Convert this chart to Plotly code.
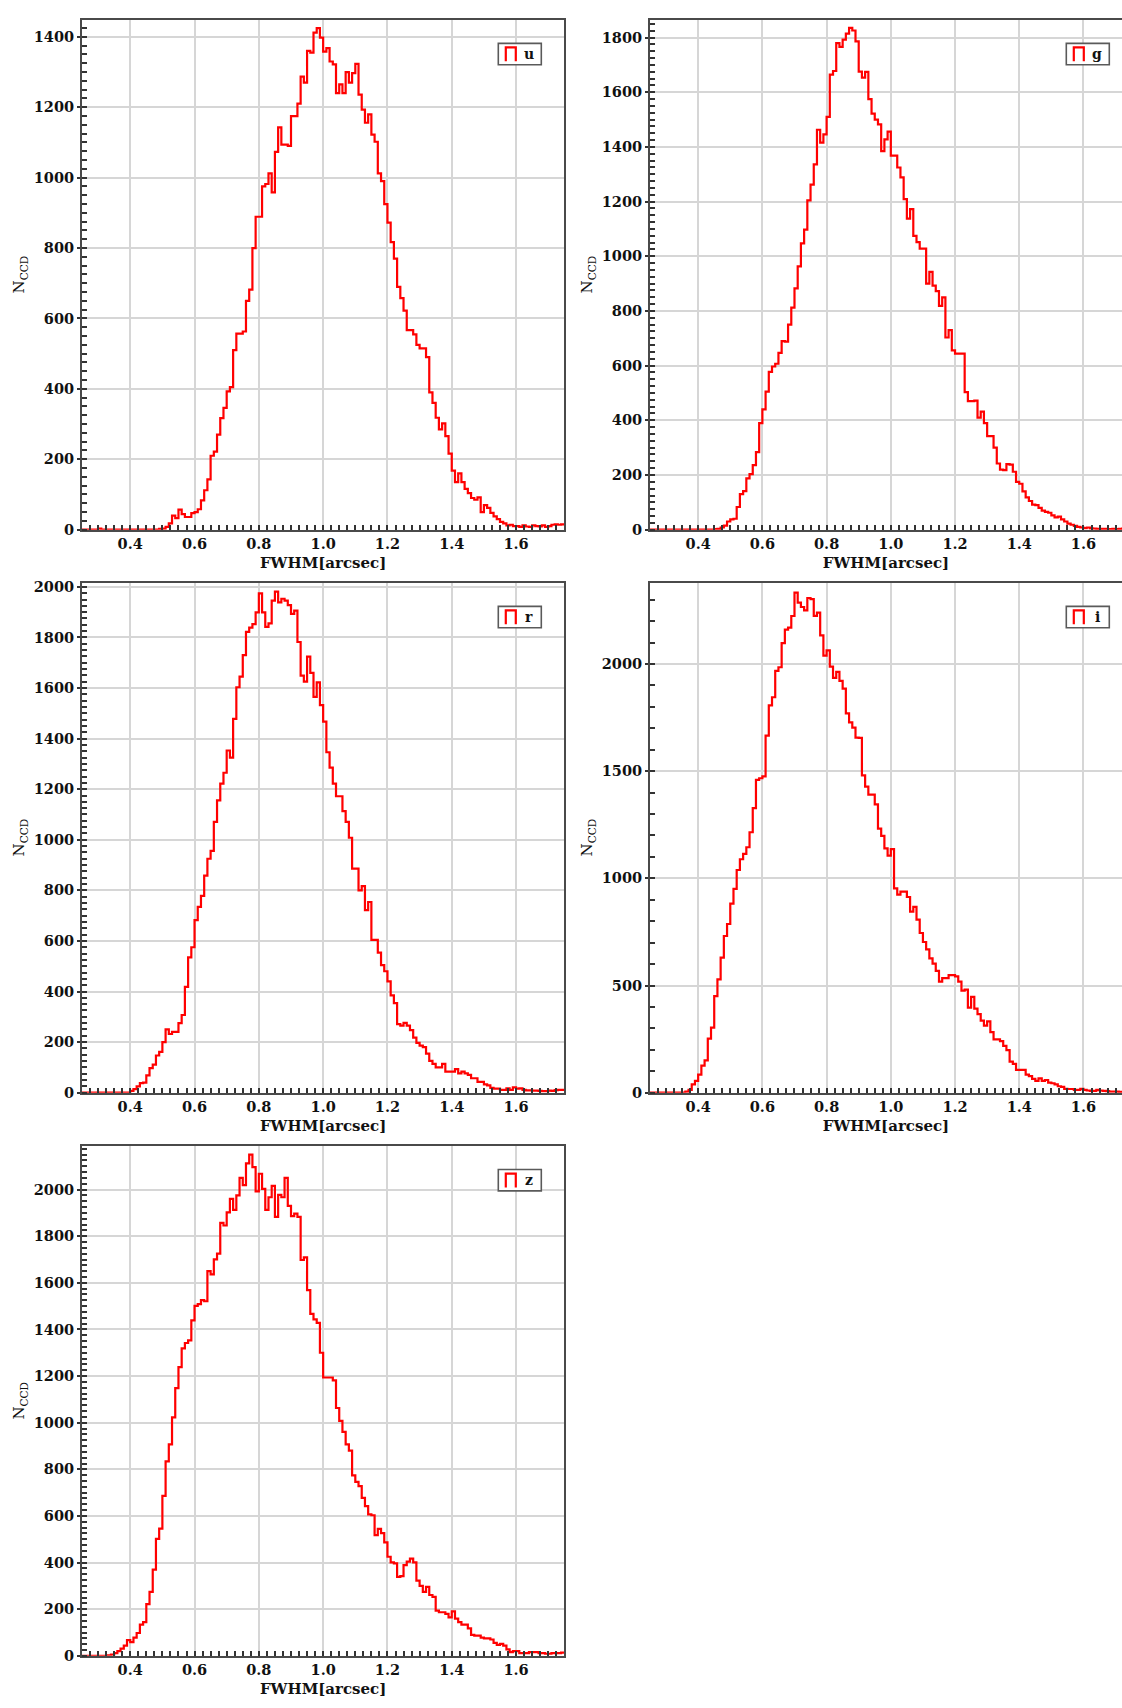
import numpy as np
import plotly.graph_objects as go

# ---------------- data ----------------
bands = ["u", "g", "r", "i", "z"]
bin_start = 0.25   # left edge of first bin [arcsec]
bin_width = 0.01   # bin width [arcsec]

# counts per bin, rows of 10 bins: 0.25-0.34, 0.35-0.44, ..., 1.65-1.74
u_counts = [
    0, 0, 0, 0, 0, 3, 0, 0, 0, 0,
    0, 0, 0, 0, 0, 0, 0, 0, 0, 0,
    0, 0, 0, 0, 2, 3, 8, 18, 40, 33,
    57, 44, 36, 36, 47, 50, 58, 83, 112, 143,
    210, 222, 270, 317, 346, 393, 405, 510, 557, 557,
    563, 650, 682, 800, 889, 889, 975, 982, 1012, 958,
    1073, 1143, 1094, 1094, 1090, 1175, 1175, 1210, 1287, 1270,
    1360, 1355, 1412, 1425, 1398, 1358, 1368, 1330, 1322, 1240,
    1265, 1240, 1300, 1270, 1297, 1323, 1236, 1193, 1156, 1180,
    1122, 1102, 1012, 990, 925, 872, 817, 770, 690, 658,
    622, 567, 567, 555, 525, 515, 515, 490, 390, 360,
    318, 285, 302, 266, 216, 168, 135, 160, 135, 116,
    104, 90, 85, 92, 50, 70, 62, 48, 38, 30,
    22, 18, 12, 14, 10, 10, 8, 12, 9, 8,
    12, 10, 9, 12, 8, 10, 14, 15, 14, 15,
]
g_counts = [
    0, 0, 0, 0, 0, 0, 0, 0, 0, 0,
    0, 0, 0, 0, 0, 0, 0, 0, 0, 0,
    2, 3, 8, 15, 30, 38, 40, 83, 130, 141,
    188, 203, 236, 284, 390, 440, 505, 577, 597, 607,
    647, 690, 688, 750, 812, 883, 963, 1047, 1098, 1205,
    1262, 1336, 1463, 1416, 1446, 1510, 1665, 1678, 1780, 1766,
    1793, 1815, 1836, 1826, 1786, 1676, 1654, 1675, 1575, 1522,
    1500, 1483, 1385, 1428, 1456, 1368, 1368, 1325, 1289, 1209,
    1138, 1173, 1075, 1052, 1028, 1028, 900, 943, 893, 873,
    819, 850, 703, 730, 656, 644, 644, 644, 503, 470,
    470, 472, 410, 432, 390, 342, 342, 300, 242, 220,
    218, 240, 238, 212, 175, 168, 140, 118, 105, 92,
    90, 80, 70, 65, 62, 52, 45, 48, 38, 30,
    22, 18, 14, 10, 8, 6, 8, 5, 4, 3,
    3, 3, 2, 2, 3, 2, 3, 4, 3, 2,
]
r_counts = [
    0, 0, 0, 0, 0, 0, 0, 0, 0, 0,
    0, 0, 0, 0, 0, 7, 14, 25, 38, 40,
    68, 97, 111, 147, 161, 200, 250, 232, 240, 240,
    275, 307, 418, 535, 575, 682, 735, 778, 858, 925,
    956, 1071, 1156, 1222, 1265, 1353, 1325, 1478, 1603, 1645,
    1730, 1822, 1839, 1853, 1899, 1974, 1899, 1842, 1856, 1946,
    1981, 1939, 1953, 1946, 1928, 1893, 1906, 1782, 1649, 1625,
    1724, 1660, 1565, 1622, 1532, 1467, 1346, 1285, 1222, 1172,
    1172, 1113, 1071, 1008, 886, 886, 800, 817, 722, 754,
    604, 604, 554, 504, 480, 440, 385, 354, 271, 265,
    276, 265, 247, 218, 197, 186, 180, 154, 126, 114,
    100, 100, 114, 83, 83, 83, 93, 76, 83, 76,
    70, 57, 57, 43, 43, 33, 29, 19, 16, 16,
    11, 11, 17, 11, 21, 16, 17, 11, 9, 9,
    8, 8, 7, 6, 6, 8, 7, 10, 11, 11,
]
i_counts = [
    0, 0, 0, 0, 0, 0, 0, 0, 0, 0,
    0, 5, 13, 39, 55, 84, 126, 151, 252, 303,
    450, 529, 630, 731, 787, 882, 951, 1039, 1089, 1114,
    1145, 1215, 1328, 1459, 1467, 1476, 1666, 1807, 1845, 1968,
    1985, 2097, 2160, 2170, 2224, 2333, 2286, 2266, 2250, 2308,
    2303, 2225, 2240, 2134, 2039, 2064, 1988, 1935, 1963, 1921,
    1885, 1770, 1728, 1703, 1657, 1655, 1480, 1428, 1391, 1391,
    1345, 1232, 1198, 1140, 1106, 1136, 953, 924, 938, 938,
    913, 845, 867, 807, 745, 703, 669, 627, 602, 568,
    518, 534, 534, 548, 548, 543, 518, 476, 481, 397,
    447, 392, 366, 336, 313, 333, 282, 249, 249, 240,
    218, 198, 145, 134, 106, 106, 106, 84, 77, 64,
    55, 67, 55, 59, 47, 44, 39, 30, 27, 18,
    17, 17, 13, 13, 18, 13, 10, 8, 8, 13,
    10, 8, 7, 5, 5, 5, 4, 4, 4, 3,
]
z_counts = [
    0, 0, 0, 0, 0, 0, 0, 0, 2, 5,
    12, 20, 31, 44, 67, 59, 78, 98, 134, 145,
    222, 274, 370, 502, 546, 686, 834, 907, 1023, 1148,
    1238, 1319, 1342, 1353, 1439, 1501, 1509, 1526, 1521, 1650,
    1636, 1701, 1725, 1857, 1846, 1902, 1960, 1913, 1975, 2050,
    2019, 2112, 2150, 2096, 1992, 2068, 2003, 1913, 1967, 2016,
    1883, 1977, 1967, 2050, 1930, 1886, 1897, 1883, 1698, 1709,
    1569, 1467, 1443, 1428, 1300, 1194, 1194, 1194, 1182, 1063,
    1008, 961, 907, 880, 774, 746, 728, 678, 642, 607,
    603, 518, 545, 526, 487, 425, 401, 397, 339, 342,
    389, 404, 417, 401, 323, 300, 274, 296, 261, 253,
    194, 187, 187, 180, 165, 191, 160, 145, 134, 134,
    118, 90, 87, 87, 78, 75, 75, 70, 56, 47,
    51, 44, 28, 16, 20, 20, 12, 12, 12, 16,
    16, 16, 12, 12, 9, 9, 12, 12, 12, 14,
]
counts = {"u": u_counts, "g": g_counts, "r": r_counts, "i": i_counts, "z": z_counts}

x_tick_step = 0.2
x_minor_step = 0.025
y_tick_step = {"u": 200, "g": 200, "r": 200, "i": 500, "z": 200}
y_minor_step = {"u": 25, "g": 25, "r": 25, "i": 100, "z": 25}
y_top = {"u": 1449, "g": 1866, "r": 2017, "i": 2380, "z": 2188}
x_range_left = [0.25, 1.75]
x_range_right = [0.25, 1.72]

# ---------------- layout geometry (pixels) ----------------
W, H = 1122, 1708
cols = {"L": (82.0, 564.3), "R": (650.0, 1122.0)}
panel_w = cols["L"][1] - cols["L"][0]
rows = [(14.7, 528.7), (582.0, 1096.0), (1149.5, 1663.5)]
placement = {"u": ("L", 0), "g": ("R", 0), "r": ("L", 1), "i": ("R", 1), "z": ("L", 2)}

RED = "#ff0000"
AXIS = "#4a4a4a"
GRID = "#d6d6d6"
SERIF = "DejaVu Serif"


def px(xp):
    return xp / W


def py(yp):
    return 1 - yp / H


fig = go.Figure()
annotations = []
shapes = []

for k, band in enumerate(bands, start=1):
    c = np.asarray(counts[band], dtype=float)
    edges = bin_start + bin_width * np.arange(len(c) + 1)
    yvals = np.append(c, c[-1])
    xa = "x" if k == 1 else f"x{k}"
    ya = "y" if k == 1 else f"y{k}"
    fig.add_trace(go.Scatter(
        x=edges, y=yvals, mode="lines", line=dict(color=RED, width=2.2, shape="hv"),
        xaxis=xa, yaxis=ya, showlegend=False, hoverinfo="skip",
    ))

    colkey, r = placement[band]
    x0, x1 = cols[colkey]
    top, bot = rows[r]
    right_col = colkey == "R"

    xaxis = dict(
        domain=[px(x0), px(x1)], anchor=ya,
        range=x_range_right if right_col else x_range_left,
        tickmode="linear", tick0=0, dtick=x_tick_step, tickformat=".1f",
        showgrid=True, gridcolor=GRID, gridwidth=1.6,
        showline=True, linecolor=AXIS, linewidth=2, mirror=True,
        ticks="inside", ticklen=5, tickwidth=1.5, tickcolor="#333333",
        minor=dict(tickmode="linear", tick0=0, dtick=x_minor_step, ticks="inside",
                   ticklen=5, tickwidth=1.8, tickcolor="#333333", showgrid=False),
        tickfont=dict(family=SERIF, size=14.5, color="#111111", weight="bold"),
        title=dict(text="FWHM[arcsec]", standoff=6,
                   font=dict(family=SERIF, size=15, color="#111111", weight="bold")),
        zeroline=False,
    )
    yaxis = dict(
        domain=[py(bot), py(top)], anchor=xa,
        range=[0, y_top[band]],
        tickmode="linear", tick0=0, dtick=y_tick_step[band],
        showgrid=True, gridcolor=GRID, gridwidth=1.6,
        showline=True, linecolor=AXIS, linewidth=2, mirror=not right_col,
        ticks="outside", ticklen=3, tickwidth=1.5, tickcolor="#333333",
        minor=dict(tickmode="linear", tick0=0, dtick=y_minor_step[band], ticks="inside",
                   ticklen=5, tickwidth=1.8, tickcolor="#333333", showgrid=False),
        tickfont=dict(family=SERIF, size=14.5, color="#111111", weight="bold"),
        title=dict(text="N<sub>CCD</sub>", standoff=5,
                   font=dict(family=SERIF, size=15, color="#111111")),
        zeroline=False,
    )
    fig.update_layout(**{("xaxis" if k == 1 else f"xaxis{k}"): xaxis,
                         ("yaxis" if k == 1 else f"yaxis{k}"): yaxis})

    # legend box (top-right of each panel; right-column panels are cropped at the page edge)
    full_right = x0 + panel_w
    bx1 = full_right - 23
    bx0 = bx1 - 43
    by0 = top + 24
    by1 = by0 + 21.5
    shapes.append(dict(type="rect", xref="paper", yref="paper",
                       x0=px(bx0), x1=px(bx1), y0=py(by1), y1=py(by0),
                       line=dict(color="#5a5a5a", width=1.6), fillcolor="white", layer="above"))
    sx0, sx1 = bx0 + 7.5, bx0 + 17.5
    sy_top, sy_bot = by0 + 4, by0 + 18
    shapes.append(dict(type="path", xref="paper", yref="paper",
                       path=f"M {px(sx0)},{py(sy_bot)} L {px(sx0)},{py(sy_top)} "
                            f"L {px(sx1)},{py(sy_top)} L {px(sx1)},{py(sy_bot)}",
                       line=dict(color=RED, width=2.2), layer="above"))
    annotations.append(dict(
        xref="paper", yref="paper", x=px(bx0 + 31), y=py(by0 + 10.5),
        xanchor="center", yanchor="middle", showarrow=False,
        text=f"<b>{band}</b>",
        font=dict(family=SERIF, size=14, color="#111111"),
    ))

fig.update_layout(
    width=W, height=H,
    margin=dict(l=0, r=0, t=0, b=0),
    paper_bgcolor="white", plot_bgcolor="white",
    annotations=annotations, shapes=shapes,
    showlegend=False,
)

fig.write_html("out.html")
